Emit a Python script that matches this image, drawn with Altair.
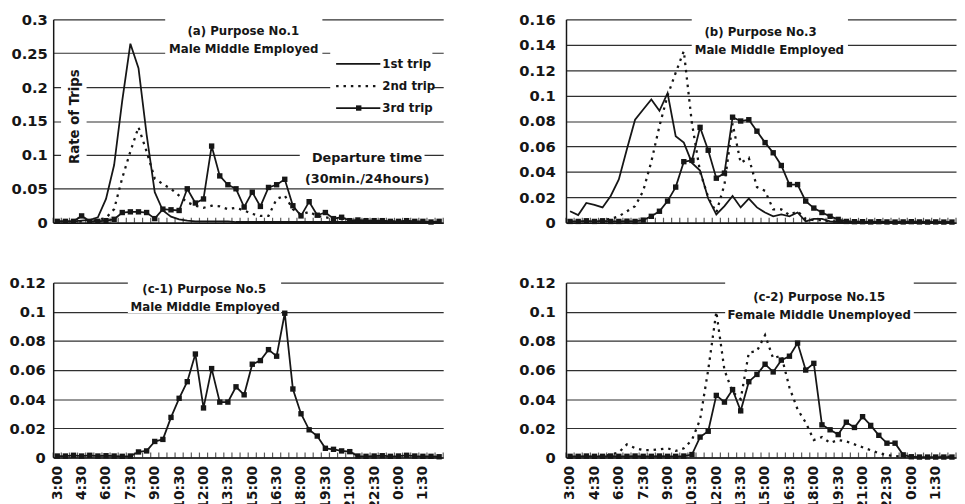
import json
import altair as alt
import pandas as pd

# ---------------- data ----------------
series_names = ["1st trip", "2nd trip", "3rd trip"]
tick_labels = ["3:00", "4:30", "6:00", "7:30", "9:00", "10:30", "12:00", "13:30",
               "15:00", "16:30", "18:00", "19:30", "21:00", "22:30", "0:00", "1:30"]

a_trip1 = [0.002, 0.002, 0.002, 0.003, 0.004, 0.008, 0.035, 0.085, 0.180, 0.264, 0.228, 0.130,
           0.045, 0.018, 0.009, 0.005, 0.003, 0.002, 0.002, 0.002, 0.002, 0.002, 0.001, 0.001,
           0.001, 0.001, 0.001, 0.001, 0.001, 0.001, 0.001, 0.001, 0.001, 0.001, 0.001, 0.001,
           0.001, 0.001, 0.001, 0.001, 0.001, 0.001, 0.001, 0.001, 0.001, 0.001, 0.001, 0.001]
a_trip2 = [0.001, 0.001, 0.001, 0.002, 0.003, 0.004, 0.007, 0.020, 0.066, 0.105, 0.141, 0.105,
           0.065, 0.057, 0.050, 0.040, 0.030, 0.025, 0.022, 0.025, 0.024, 0.020, 0.022, 0.018,
           0.013, 0.010, 0.010, 0.035, 0.040, 0.020, 0.012, 0.016, 0.010, 0.008, 0.006, 0.005,
           0.004, 0.003, 0.003, 0.002, 0.002, 0.002, 0.001, 0.001, 0.001, 0.001, 0.001, 0.001]
a_trip3 = [0.002, 0.002, 0.002, 0.010, 0.002, 0.002, 0.003, 0.005, 0.015, 0.016, 0.016, 0.015,
           0.006, 0.020, 0.019, 0.018, 0.050, 0.029, 0.035, 0.113, 0.069, 0.056, 0.050, 0.023,
           0.045, 0.024, 0.052, 0.056, 0.064, 0.025, 0.010, 0.031, 0.011, 0.015, 0.006, 0.008,
           0.003, 0.004, 0.003, 0.003, 0.003, 0.002, 0.002, 0.003, 0.002, 0.002, 0.001, 0.002]

b_trip1 = [0.009, 0.006, 0.0155, 0.014, 0.012, 0.021, 0.034, 0.058, 0.081, 0.089, 0.097, 0.088,
           0.102, 0.068, 0.063, 0.047, 0.041, 0.019, 0.0065, 0.013, 0.021, 0.012, 0.019, 0.012,
           0.008, 0.005, 0.0065, 0.005, 0.008, 0.001, 0.003, 0.003, 0.001, 0.0005, 0.0005, 0.0005,
           0.0005, 0.0005, 0.0005, 0.0005, 0.0005, 0.0005, 0.0005, 0.0005, 0.0005, 0.0005, 0.0005, 0.0005]
b_trip2 = [0.001, 0.001, 0.001, 0.001, 0.002, 0.003, 0.005, 0.009, 0.013, 0.025, 0.048, 0.076,
           0.100, 0.118, 0.135, 0.078, 0.040, 0.020, 0.008, 0.030, 0.078, 0.047, 0.051, 0.028,
           0.025, 0.0105, 0.0105, 0.006, 0.009, 0.003, 0.002, 0.002, 0.001, 0.001, 0.0008, 0.0008,
           0.0006, 0.0006, 0.0006, 0.0006, 0.0006, 0.0006, 0.0006, 0.0006, 0.0006, 0.0006, 0.0006, 0.0006]
b_trip3 = [0.001, 0.001, 0.0015, 0.001, 0.0015, 0.001, 0.001, 0.0012, 0.001, 0.002, 0.005, 0.009,
           0.017, 0.028, 0.048, 0.049, 0.075, 0.057, 0.035, 0.039, 0.083, 0.080, 0.081, 0.072,
           0.063, 0.055, 0.045, 0.030, 0.030, 0.017, 0.0115, 0.008, 0.005, 0.0026, 0.001, 0.0008,
           0.0008, 0.0006, 0.0008, 0.0006, 0.0005, 0.0006, 0.0008, 0.0006, 0.0005, 0.0006, 0.0005, 0.0005]

c1_trip3 = [0.001, 0.001, 0.0015, 0.001, 0.0015, 0.001, 0.0012, 0.001, 0.0008, 0.001, 0.0038, 0.0045,
            0.011, 0.0124, 0.0275, 0.0406, 0.052, 0.071, 0.034, 0.061, 0.038, 0.038, 0.0485, 0.043,
            0.064, 0.0665, 0.074, 0.0695, 0.099, 0.047, 0.030, 0.019, 0.0147, 0.0063, 0.0056, 0.0045,
            0.004, 0.001, 0.0008, 0.001, 0.0012, 0.0008, 0.001, 0.0015, 0.001, 0.0008, 0.0008, 0.0005]

c2_trip2 = [0.0005, 0.0005, 0.001, 0.001, 0.001, 0.002, 0.0034, 0.009, 0.0065, 0.005, 0.005, 0.0056,
            0.0063, 0.0045, 0.0063, 0.012, 0.026, 0.060, 0.100, 0.060, 0.045, 0.040, 0.072, 0.073,
            0.084, 0.068, 0.070, 0.048, 0.033, 0.024, 0.012, 0.014, 0.010, 0.012, 0.011, 0.009,
            0.007, 0.005, 0.003, 0.0016, 0.001, 0.0005, 0.0005, 0.0005, 0.0005, 0.0005, 0.0005, 0.0005]
c2_trip3 = [0.0008, 0.0008, 0.001, 0.0008, 0.0008, 0.001, 0.0008, 0.0008, 0.001, 0.0008, 0.0008, 0.001,
            0.0008, 0.0008, 0.001, 0.002, 0.014, 0.018, 0.0426, 0.038, 0.0466, 0.032, 0.052, 0.057,
            0.064, 0.0587, 0.0668, 0.0695, 0.0785, 0.060, 0.0646, 0.0224, 0.019, 0.0157, 0.0242, 0.0206,
            0.028, 0.022, 0.0152, 0.0098, 0.0098, 0.0018, 0.0005, 0.0003, 0.0003, 0.0003, 0.0003, 0.0003]

y_ticks_a = [0, 0.05, 0.1, 0.15, 0.2, 0.25, 0.3]
y_ticks_b = [0, 0.02, 0.04, 0.06, 0.08, 0.1, 0.12, 0.14, 0.16]
y_ticks_c = [0, 0.02, 0.04, 0.06, 0.08, 0.1, 0.12]

N = 48
for s in [a_trip1, a_trip2, a_trip3, b_trip1, b_trip2, b_trip3, c1_trip3, c2_trip2, c2_trip3]:
    assert len(s) == N, len(s)

# ---------------- styling ----------------
FONT = "DejaVu Sans"
INK = "#161616"
GRID = "#303030"
W = 397
H1 = 207
H2 = 178
LABEL_EXPR = json.dumps(tick_labels) + "[round(datum.value / 3)]"
ONE = pd.DataFrame({"k": [0]})


def long_df(pairs):
    rows = []
    for name, vals in pairs:
        for i, v in enumerate(vals):
            rows.append({"idx": i, "value": v, "series": name})
    return pd.DataFrame(rows)


def txt(t, x, y, size=12, angle=None, align="center"):
    kw = dict(font=FONT, fontSize=size, fontWeight="bold", color=INK,
              align=align, baseline="middle")
    if angle is not None:
        kw["angle"] = angle
    return alt.Chart(ONE).mark_text(**kw).encode(
        x=alt.value(x), y=alt.value(y), text=alt.value(t))


def mask(x1, x2, y1, y2):
    return alt.Chart(ONE).mark_rect(color="white").encode(
        x=alt.value(x1), x2=alt.value(x2), y=alt.value(y1), y2=alt.value(y2))


def panel(pairs, styles, ymax, yticks, height, show_x, ext_y, pad_y, extra):
    df = long_df(pairs)
    xenc = alt.X("idx:Q",
                 scale=alt.Scale(domain=[-0.5, N - 0.5], nice=False, zero=False),
                 axis=alt.Axis(values=list(range(0, N, 3)), labelExpr=LABEL_EXPR,
                               labelAngle=270, labels=show_x, ticks=False, grid=False,
                               domain=True, domainColor=INK, domainWidth=1.5, title=None,
                               labelFont=FONT, labelFontSize=14, labelFontWeight="bold",
                               labelColor=INK, labelPadding=8, labelOverlap=False,
                               labelFlush=False))
    yenc = alt.Y("value:Q",
                 scale=alt.Scale(domain=[0, ymax], nice=False, zero=True),
                 axis=alt.Axis(values=yticks, format=".2~f", grid=True, gridColor=GRID,
                               gridWidth=1.2, ticks=False, domain=True, domainColor=INK,
                               domainWidth=1.5, labelFont=FONT, labelFontSize=15,
                               labelFontWeight="bold", labelColor=INK, labelPadding=pad_y,
                               minExtent=ext_y, maxExtent=ext_y, title=None))
    layers = list(extra)
    bounds = pd.DataFrame({"idx": [k - 0.5 for k in range(N + 1)]})
    layers.append(alt.Chart(bounds).mark_tick(orient="vertical", size=5, thickness=1.2,
                                              color=INK)
                  .encode(x=xenc, y=alt.value(height - 2.5)))
    for (name, _), style in zip(pairs, styles):
        base = alt.Chart(df).transform_filter(alt.datum.series == name)
        if style == "solid":
            m = base.mark_line(color=INK, strokeWidth=1.8)
        elif style == "dotted":
            m = base.mark_line(color=INK, strokeWidth=2.3, strokeDash=[2.5, 5])
        else:
            m = base.mark_line(color=INK, strokeWidth=1.8,
                               point=alt.OverlayMarkDef(shape="square", size=30,
                                                        filled=True, color=INK))
        layers.append(m.encode(x=xenc, y=yenc))
    return alt.layer(*layers).properties(width=W, height=height)


# ---------------- panel (a) ----------------
legend_y = [45.3, 68, 90.3]
a_extra = [
    mask(114, 274, -3, 37), mask(282, 386, 25, 80), mask(8, 34, 43, 153), mask(251, 378, 128, 171),
    txt("(a) Purpose No.1", 193.5, 12), txt("Male Middle Employed", 194, 30.5),
    txt("Rate of Trips", 22.7, 99, size=13.5, angle=270),
    txt("Departure time", 319.5, 141, size=13), txt("(30min./24hours)", 319.5, 163, size=13),
    alt.Chart(ONE).mark_rule(color=INK, strokeWidth=1.8).encode(
        x=alt.value(288), x2=alt.value(333), y=alt.value(legend_y[0])),
    alt.Chart(ONE).mark_rule(color=INK, strokeWidth=2.3, strokeDash=[2.5, 5]).encode(
        x=alt.value(288), x2=alt.value(333), y=alt.value(legend_y[1])),
    alt.Chart(ONE).mark_rule(color=INK, strokeWidth=1.8).encode(
        x=alt.value(288), x2=alt.value(333), y=alt.value(legend_y[2])),
    alt.Chart(ONE).mark_point(shape="square", size=30, filled=True, color=INK, opacity=1).encode(
        x=alt.value(311), y=alt.value(legend_y[2])),
]
for name, yy in zip(series_names, legend_y):
    a_extra.append(txt(name, 335, yy, align="left"))

pa = panel([("1st trip", a_trip1), ("2nd trip", a_trip2), ("3rd trip", a_trip3)],
           ["solid", "dotted", "square"], 0.3, y_ticks_a, H1, False, 46, 6, a_extra)

# ---------------- panel (b) ----------------
b_extra = [mask(128, 287, -4, 38),
           txt("(b) Purpose No.3", 198, 12.6), txt("Male Middle Employed", 207, 31.3)]
pb = panel([("1st trip", b_trip1), ("2nd trip", b_trip2), ("3rd trip", b_trip3)],
           ["solid", "dotted", "square"], 0.16, y_ticks_b, H1, False, 46, 11, b_extra)

# ---------------- panel (c-1) ----------------
c1_extra = [mask(76, 232, -4, 31),
            txt("(c-1) Purpose No.5", 153.7, 6.3), txt("Male Middle Employed", 154.7, 25)]
pc1 = panel([("3rd trip", c1_trip3)], ["square"], 0.12, y_ticks_c, H2, True, 41, 8, c1_extra)

# ---------------- panel (c-2) ----------------
c2_extra = [mask(162, 354, -4, 37),
            txt("(c-2) Purpose No.15", 257.7, 14.3), txt("Female Middle Unemployed", 257.7, 32.7)]
pc2 = panel([("2nd trip", c2_trip2), ("3rd trip", c2_trip3)], ["dotted", "square"],
            0.12, y_ticks_c, H2, True, 46, 11, c2_extra)

row1 = alt.hconcat(pa, pb, spacing=75)
row2 = alt.hconcat(pc1, pc2, spacing=75)
chart = (alt.vconcat(row1, row2, spacing=46)
         .properties(padding={"left": 0, "top": 0, "right": 0, "bottom": 0}, background="white")
         .configure_view(strokeWidth=0))

chart.save("out.html", embed_options={"renderer": "svg", "actions": False})
